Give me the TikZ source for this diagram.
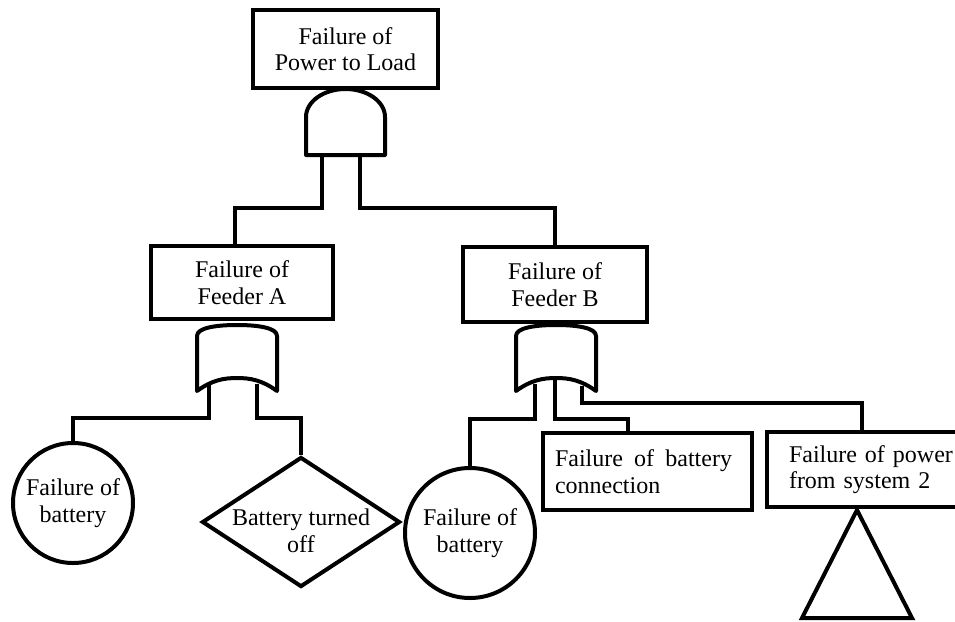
\documentclass[tikz,border=0pt]{standalone}
\usepackage{fontspec}
\setmainfont{Liberation Serif}
\usetikzlibrary{shapes.geometric}
\begin{document}
\begin{tikzpicture}[x=1pt,y=-1pt,
  lw/.style={line width=4pt},
  txt/.style={font=\fontsize{24}{26.5}\selectfont},
  evbox/.style={draw,lw,rectangle,inner sep=0pt,align=center,txt},
  evcirc/.style={draw,lw,circle,inner sep=0pt,align=center,txt},
  conn/.style={lw},
  gate/.style={lw,line join=round}]
\useasboundingbox (0,0) rectangle (955,621);

% events
\node[evbox,minimum width=185pt,minimum height=78pt] (top) at (345.5,49) {Failure of\\Power to Load};
\node[evbox,minimum width=182pt,minimum height=73pt] (fa) at (242,282.5) {Failure of\\Feeder A};
\node[evbox,minimum width=184pt,minimum height=75pt] (fb) at (555,284.5) {Failure of\\Feeder B};
\node[evcirc,minimum size=120pt] (ca) at (73,503) {Failure of\\battery};
\node[evcirc,minimum size=130pt] (cb) at (470,533) {Failure of\\battery};
\node[draw,lw,diamond,minimum width=198pt,minimum height=130pt,inner sep=0pt] (dm) at (301,522) {};
\node[txt,align=center,inner sep=0pt] (dmt) at (301,531) {Battery turned\\off};
\node[evbox,minimum height=77pt,inner xsep=12pt,text width=185pt,align=left] (bc) at (647.5,471.5)
  {\makebox[177pt][l]{Failure\hfill of\hfill battery}\\connection};
\node[evbox,minimum height=75pt,inner xsep=22pt,text width=170pt,align=left,anchor=west] (s2) at (765,469.5)
  {Failure of power\\from system 2};

% AND gate
\draw[gate] (306,155) -- (306,117) .. controls (306,101.5) and (323.7,89) .. (345.5,89)
  .. controls (367.3,89) and (385,101.5) .. (385,117) -- (385,155) -- cycle;
\coordinate (andL) at (322,155);
\coordinate (andR) at (360,155);

% OR gate A
\draw[gate] (197,391) -- (197,336) .. controls (197,328) and (215,325) .. (237,325)
  .. controls (259,325) and (277,328) .. (277,336) -- (277,391)
  .. controls (262,380) and (250,378) .. (237,378) .. controls (224,378) and (212,380) .. (197,391) -- cycle;
\coordinate (oaL) at (209,384);
\coordinate (oaR) at (257,384);

% OR gate B
\draw[gate] (516,391) -- (516,336) .. controls (516,328) and (534,325) .. (556,325)
  .. controls (578,325) and (596,328) .. (596,336) -- (596,391)
  .. controls (581,380) and (569,378) .. (556,378) .. controls (543,378) and (531,380) .. (516,391) -- cycle;
\coordinate (obL) at (535,384);
\coordinate (obM) at (555,380);
\coordinate (obR) at (582,386);

% transfer triangle
\coordinate (tri) at (857,510);
\draw[lw] (tri) -- (912,618) -- (802,618) -- cycle;

% junction points
\coordinate (jA) at (235,208);
\coordinate (jB) at (555,208);
\coordinate (jaL) at (73,418);
\coordinate (jaR) at (301,418);
\coordinate (jbL) at (470,419);
\coordinate (jbM) at (628,419);
\coordinate (jbR) at (862,403);

% connectors
\draw[conn] (andL) |- (jA) -- (jA |- fa.north);
\draw[conn] (andR) |- (jB) -- (jB |- fb.north);
\draw[conn] (oaL) |- (jaL) -- (ca.north);
\draw[conn] (oaR) |- (jaR) -- (dm.north);
\draw[conn] (obL) |- (jbL) -- (cb.north);
\draw[conn] (obM) |- (jbM) -- (jbM |- bc.north);
\draw[conn] (obR) |- (jbR) -- (jbR |- s2.north);
\end{tikzpicture}
\end{document}
